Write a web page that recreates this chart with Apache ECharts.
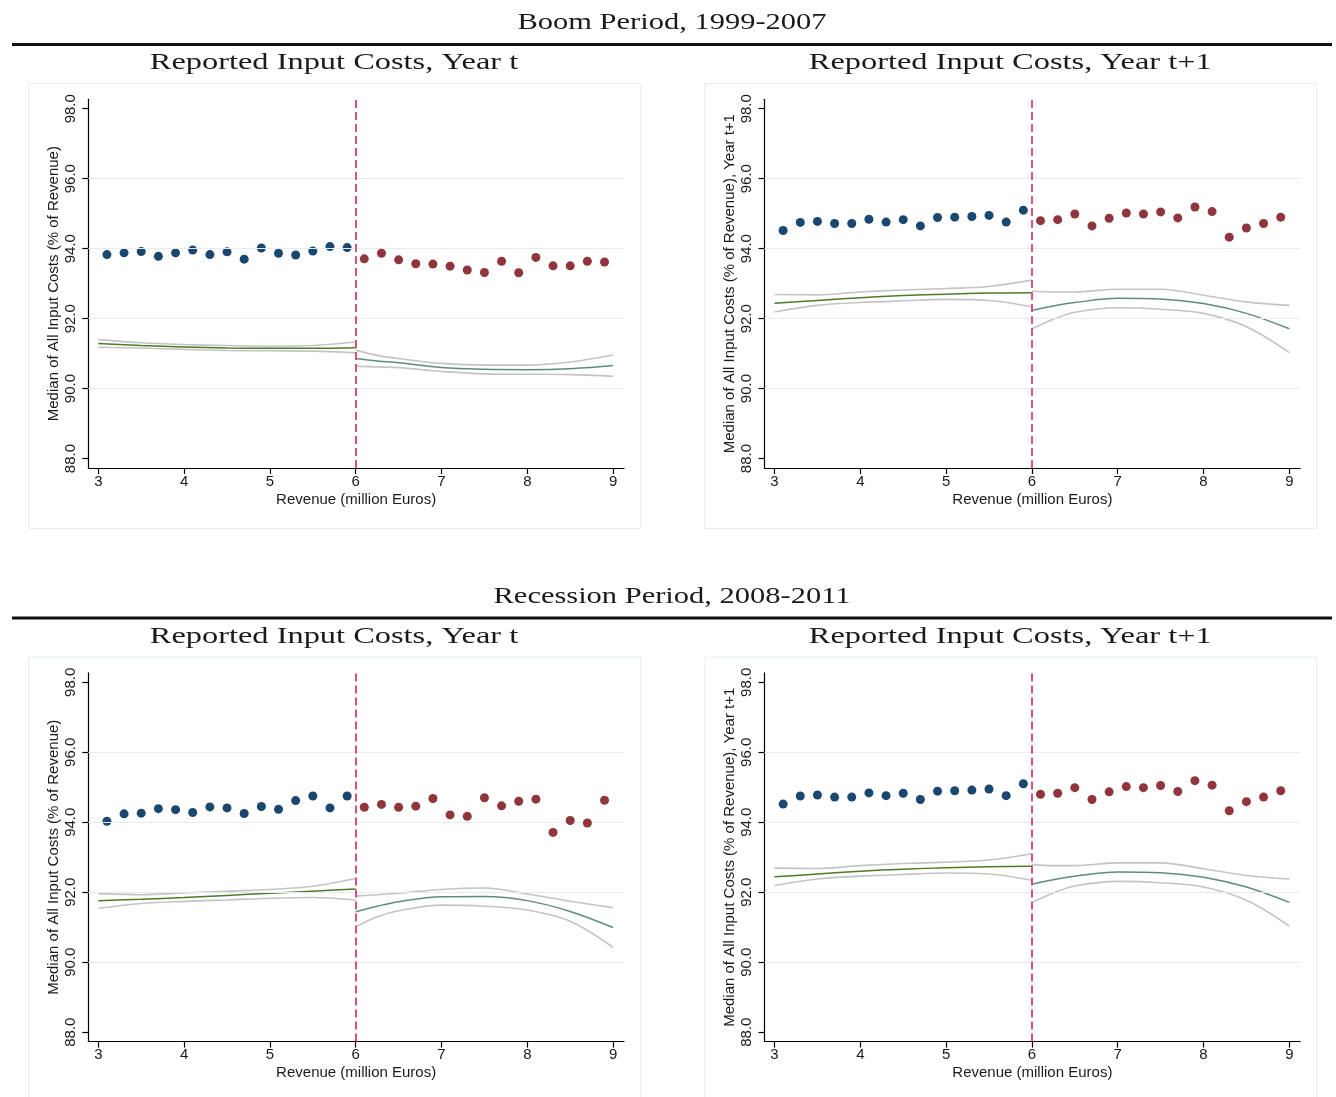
<!DOCTYPE html>
<html>
<head>
<meta charset="utf-8">
<title>Input costs around the 6 million Euro threshold</title>
<script src="https://cdn.jsdelivr.net/npm/echarts@6/dist/echarts.min.js"></script>
<style>
  html, body { margin: 0; padding: 0; background: #ffffff; }
  #chart { width: 1336px; height: 1097px; }
</style>
</head>
<body>
<div id="chart"></div>
<script>
// ---- data -------------------------------------------------------------
const cutoff = 6;
const binsBelow = [3.1, 3.3, 3.5, 3.7, 3.9, 4.1, 4.3, 4.5, 4.7, 4.9, 5.1, 5.3, 5.5, 5.7, 5.9];
const binsAbove = [6.1, 6.3, 6.5, 6.7, 6.9, 7.1, 7.3, 7.5, 7.7, 7.9, 8.1, 8.3, 8.5, 8.7, 8.9];
const fitXBelow = [3, 3.5, 4, 4.5, 5, 5.5, 6];
const fitXAbove = [6, 6.25, 6.5, 7, 7.5, 8, 8.5, 9];
const yTicks = [88, 90, 92, 94, 96, 98];
const yGridLines = [90, 92, 94, 96];
const xTicks = [3, 4, 5, 6, 7, 8, 9];

const periodTitles = ['Boom Period, 1999-2007', 'Recession Period, 2008-2011'];
const panelTitles = ['Reported Input Costs, Year t', 'Reported Input Costs, Year t+1'];
const yNames = ['Median of All Input Costs (% of Revenue)', 'Median of All Input Costs (% of Revenue), Year t+1'];
const xName = 'Revenue (million Euros)';

// Boom period, year t
const boomT_below = [93.83, 93.88, 93.92, 93.78, 93.88, 93.96, 93.83, 93.91, 93.70, 94.02, 93.87, 93.82, 93.93, 94.06, 94.03];
const boomT_above = [93.71, 93.87, 93.68, 93.57, 93.56, 93.50, 93.39, 93.32, 93.64, 93.31, 93.75, 93.51, 93.51, 93.64, 93.62];
const boomT_fitBelow = [91.29, 91.23, 91.19, 91.16, 91.15, 91.15, 91.17];
const boomT_hiBelow  = [91.40, 91.31, 91.26, 91.23, 91.21, 91.23, 91.33];
const boomT_loBelow  = [91.18, 91.16, 91.12, 91.09, 91.08, 91.07, 91.02];
const boomT_fitAbove = [90.86, 90.79, 90.74, 90.60, 90.55, 90.54, 90.57, 90.66];
const boomT_hiAbove  = [91.10, 90.95, 90.86, 90.72, 90.67, 90.67, 90.76, 90.96];
const boomT_loAbove  = [90.64, 90.62, 90.60, 90.49, 90.42, 90.41, 90.40, 90.35];

// Boom period, year t+1
const boomT1_below = [94.52, 94.75, 94.78, 94.72, 94.72, 94.84, 94.76, 94.83, 94.65, 94.89, 94.90, 94.92, 94.95, 94.76, 95.10];
const boomT1_above = [94.80, 94.83, 94.99, 94.65, 94.87, 95.02, 94.99, 95.05, 94.88, 95.19, 95.06, 94.33, 94.59, 94.72, 94.90];
const boomT1_fitBelow = [92.44, 92.52, 92.60, 92.66, 92.70, 92.73, 92.74];
const boomT1_hiBelow  = [92.69, 92.68, 92.76, 92.82, 92.86, 92.92, 93.10];
const boomT1_loBelow  = [92.19, 92.38, 92.46, 92.51, 92.55, 92.52, 92.34];
const boomT1_fitAbove = [92.23, 92.36, 92.46, 92.58, 92.56, 92.43, 92.15, 91.71];
const boomT1_hiAbove  = [92.79, 92.76, 92.76, 92.84, 92.84, 92.67, 92.48, 92.38];
const boomT1_loAbove  = [91.71, 91.98, 92.18, 92.31, 92.27, 92.15, 91.77, 91.03];

// Recession period, year t
const recT_below = [94.03, 94.24, 94.26, 94.39, 94.36, 94.28, 94.44, 94.41, 94.25, 94.45, 94.37, 94.62, 94.75, 94.41, 94.75];
const recT_above = [94.43, 94.51, 94.43, 94.46, 94.68, 94.21, 94.17, 94.70, 94.47, 94.60, 94.66, 93.71, 94.05, 93.98, 94.63];
const recT_fitBelow = [91.76, 91.80, 91.85, 91.91, 91.97, 92.03, 92.09];
const recT_hiBelow  = [91.96, 91.93, 91.98, 92.03, 92.08, 92.17, 92.39];
const recT_loBelow  = [91.54, 91.68, 91.74, 91.78, 91.83, 91.85, 91.78];
const recT_fitAbove = [91.44, 91.60, 91.73, 91.87, 91.88, 91.76, 91.45, 90.99];
const recT_hiAbove  = [91.89, 91.93, 91.97, 92.08, 92.12, 91.95, 91.74, 91.56];
const recT_loAbove  = [91.01, 91.30, 91.47, 91.63, 91.60, 91.49, 91.17, 90.42];

// Recession period, year t+1
const recT1_below = [94.52, 94.75, 94.78, 94.72, 94.72, 94.84, 94.76, 94.83, 94.65, 94.89, 94.90, 94.92, 94.95, 94.76, 95.10];
const recT1_above = [94.80, 94.83, 94.99, 94.65, 94.87, 95.02, 94.99, 95.05, 94.88, 95.19, 95.06, 94.33, 94.59, 94.72, 94.90];
const recT1_fitBelow = [92.44, 92.52, 92.60, 92.66, 92.70, 92.73, 92.74];
const recT1_hiBelow  = [92.69, 92.68, 92.76, 92.82, 92.86, 92.92, 93.10];
const recT1_loBelow  = [92.19, 92.38, 92.46, 92.51, 92.55, 92.52, 92.34];
const recT1_fitAbove = [92.23, 92.36, 92.46, 92.58, 92.56, 92.43, 92.15, 91.71];
const recT1_hiAbove  = [92.79, 92.76, 92.76, 92.84, 92.84, 92.67, 92.48, 92.38];
const recT1_loAbove  = [91.71, 91.98, 92.18, 92.31, 92.27, 92.15, 91.77, 91.03];

// ---- panels (row, col) ------------------------------------------------
const panels = [
  { row: 0, col: 0, below: boomT_below, above: boomT_above,
    fitB: boomT_fitBelow, hiB: boomT_hiBelow, loB: boomT_loBelow,
    fitA: boomT_fitAbove, hiA: boomT_hiAbove, loA: boomT_loAbove },
  { row: 0, col: 1, below: boomT1_below, above: boomT1_above,
    fitB: boomT1_fitBelow, hiB: boomT1_hiBelow, loB: boomT1_loBelow,
    fitA: boomT1_fitAbove, hiA: boomT1_hiAbove, loA: boomT1_loAbove },
  { row: 1, col: 0, below: recT_below, above: recT_above,
    fitB: recT_fitBelow, hiB: recT_hiBelow, loB: recT_loBelow,
    fitA: recT_fitAbove, hiA: recT_hiAbove, loA: recT_loAbove },
  { row: 1, col: 1, below: recT1_below, above: recT1_above,
    fitB: recT1_fitBelow, hiB: recT1_hiBelow, loB: recT1_loBelow,
    fitA: recT1_fitAbove, hiA: recT1_hiAbove, loA: recT1_loAbove }
];

// ---- styling & layout -------------------------------------------------
const SANS = '"Liberation Sans", Arial, Helvetica, sans-serif';
const SERIF = '"Liberation Serif", "Times New Roman", serif';
const C = {
  navy: '#1a476f', maroon: '#90353b', cutoff: '#d6406c',
  fitBelow: '#4f7a28', fitAbove: '#5f8b7e', ci: '#c4c4c4',
  grid: '#e4ecef', frame: '#e6eef0', text: '#1a1a1a'
};
const colX = [0, 676.2];
const rowY = [0, 573.6];
const GRID = { left: 88.3, top: 99.3, width: 535.7, height: 368.7 };

const zip = (xs, ys) => xs.map((x, i) => [x, ys[i]]);

const grids = [], xAxes = [], yAxes = [], series = [];

panels.forEach((p, i) => {
  const dx = colX[p.col], dy = rowY[p.row];
  grids.push({
    left: GRID.left + dx, top: GRID.top + dy,
    width: GRID.width, height: GRID.height,
    outerBoundsMode: 'none', containLabel: false
  });
  xAxes.push({
    gridIndex: i, type: 'value', min: 2.883, max: 9.127,
    name: xName, nameLocation: 'middle', nameGap: 24, nameMoveOverlap: false,
    nameTextStyle: { fontFamily: SANS, fontSize: 15, color: C.text },
    axisLine: { onZero: false, lineStyle: { color: '#000', width: 1.2 } },
    axisTick: { show: true, length: 6, customValues: xTicks, lineStyle: { color: '#000', width: 1.2 } },
    axisLabel: { customValues: xTicks, margin: 6, fontFamily: SANS, fontSize: 15, color: C.text },
    splitLine: { show: false }
  });
  yAxes.push({
    gridIndex: i, type: 'value', min: 87.73, max: 98.27,
    name: yNames[p.col], nameLocation: 'middle', nameGap: 27, nameMoveOverlap: false,
    nameTextStyle: { fontFamily: SANS, fontSize: 15, color: C.text },
    axisLine: { show: true, lineStyle: { color: '#000', width: 1.2 } },
    axisTick: { show: true, length: 6, customValues: yTicks, lineStyle: { color: '#000', width: 1.2 } },
    axisLabel: { customValues: yTicks, rotate: 90, margin: 10, fontFamily: SANS, fontSize: 15,
                 color: C.text, formatter: v => v.toFixed(1) },
    splitLine: { show: false }
  });

  const lineBase = { type: 'line', xAxisIndex: i, yAxisIndex: i, smooth: 0.35,
                     showSymbol: false, symbol: 'none', silent: true, animation: false };
  series.push(Object.assign({}, lineBase, {
    data: zip(fitXBelow, p.hiB), lineStyle: { color: C.ci, width: 1.6 }, z: 2,
    markLine: {
      silent: true, symbol: ['none', 'none'], animation: false, label: { show: false },
      lineStyle: { color: C.grid, width: 1, type: 'solid' },
      data: yGridLines.map(v => ({ yAxis: v }))
    }
  }));
  series.push(Object.assign({}, lineBase, { data: zip(fitXBelow, p.loB), lineStyle: { color: C.ci, width: 1.6 }, z: 2 }));
  series.push(Object.assign({}, lineBase, { data: zip(fitXAbove, p.hiA), lineStyle: { color: C.ci, width: 1.6 }, z: 2 }));
  series.push(Object.assign({}, lineBase, { data: zip(fitXAbove, p.loA), lineStyle: { color: C.ci, width: 1.6 }, z: 2 }));
  series.push(Object.assign({}, lineBase, { data: zip(fitXBelow, p.fitB), lineStyle: { color: C.fitBelow, width: 1.5 }, z: 3 }));
  series.push(Object.assign({}, lineBase, { data: zip(fitXAbove, p.fitA), lineStyle: { color: C.fitAbove, width: 1.5 }, z: 3 }));

  series.push({
    type: 'scatter', xAxisIndex: i, yAxisIndex: i, symbol: 'circle', symbolSize: 9,
    itemStyle: { color: C.navy, opacity: 1 }, data: zip(binsBelow, p.below),
    silent: true, animation: false, z: 4
  });
  series.push({
    type: 'scatter', xAxisIndex: i, yAxisIndex: i, symbol: 'circle', symbolSize: 9,
    itemStyle: { color: C.maroon, opacity: 1 }, data: zip(binsAbove, p.above),
    silent: true, animation: false, z: 5,
    markLine: {
      silent: true, symbol: ['none', 'none'], animation: false, label: { show: false },
      lineStyle: { color: C.cutoff, width: 1.8, type: [8, 4] },
      data: [{ xAxis: cutoff }]
    }
  });
});

// ---- headings, rules and panel frames -----------------------------------
const graphics = [];
[0, 1].forEach(r => {
  const dy = rowY[r];
  graphics.push({
    type: 'text', x: 672, y: 23 + dy, scaleX: 1.27, silent: true,
    style: { text: periodTitles[r], x: 0, y: 0, align: 'center', verticalAlign: 'middle',
             font: '24px ' + SERIF, fill: '#1a1a1a' }
  });
  graphics.push({
    type: 'rect', silent: true,
    shape: { x: 12, y: 43 + dy, width: 1320, height: 3 }, style: { fill: '#111' }
  });
  [0, 1].forEach(c => {
    const dx = colX[c];
    graphics.push({
      type: 'text', x: 334 + dx, y: 63 + dy, scaleX: 1.35, silent: true,
      style: { text: panelTitles[c], x: 0, y: 0, align: 'center', verticalAlign: 'middle',
               font: '24px ' + SERIF, fill: '#1a1a1a' }
    });
    graphics.push({
      type: 'rect', silent: true, z: -10,
      shape: { x: 28.5 + dx, y: 83.5 + dy, width: 612, height: 445 },
      style: { fill: 'none', stroke: C.frame, lineWidth: 1 }
    });
  });
});

const chart = echarts.init(document.getElementById('chart'), null, { renderer: 'canvas' });
chart.setOption({
  backgroundColor: '#ffffff',
  animation: false,
  grid: grids,
  xAxis: xAxes,
  yAxis: yAxes,
  series: series,
  graphic: { elements: graphics }
});
</script>
</body>
</html>
